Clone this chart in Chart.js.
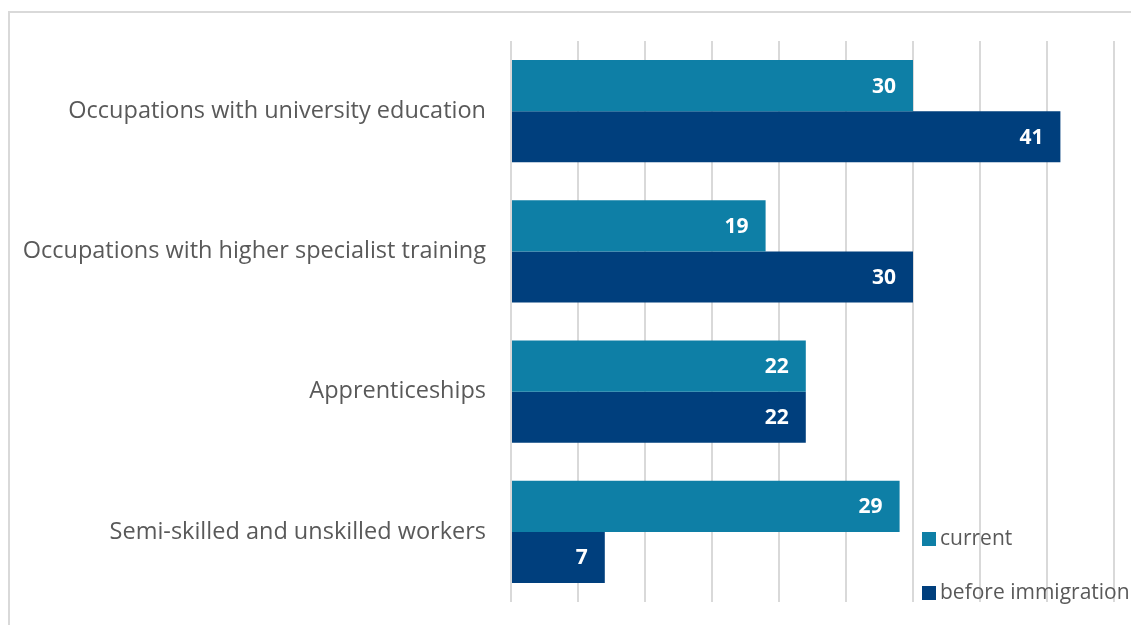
<!DOCTYPE html>
<html>
<head>
<meta charset="utf-8">
<script src="https://cdn.jsdelivr.net/npm/chart.js@4"></script>
<style>
  html, body { margin: 0; padding: 0; background: #fff; }
  canvas { display: block; }
</style>
</head>
<body>
<canvas id="chart" width="1131" height="625"></canvas>
<script>
// Data
const categories = [
    'Occupations with university education',
    'Occupations with higher specialist training',
    'Apprenticeships',
    'Semi-skilled and unskilled workers'
];
const currentValues = [30, 19, 22, 29];
const beforeValues = [41, 30, 22, 7];
const seriesNames = ['current', 'before immigration'];

const fontFamily = '"Open Sans", Lato, sans-serif';

// Frame around the whole chart
const framePlugin = {
    id: 'frame',
    beforeDraw(chart) {
        const ctx = chart.ctx;
        ctx.save();
        ctx.strokeStyle = '#d9d9d9';
        ctx.lineWidth = 2;
        ctx.strokeRect(9, 12, 1140, 640);
        ctx.restore();
    }
};

// White bold numbers at the end of each bar
const valueLabels = {
    id: 'valueLabels',
    afterDatasetsDraw(chart) {
        const ctx = chart.ctx;
        ctx.save();
        ctx.fillStyle = '#ffffff';
        ctx.font = 'bold 21px ' + fontFamily;
        ctx.textAlign = 'right';
        ctx.textBaseline = 'middle';
        chart.data.datasets.forEach((ds, i) => {
            chart.getDatasetMeta(i).data.forEach((bar, j) => {
                ctx.fillText(ds.data[j], bar.x - 17, bar.y + 1);
            });
        });
        ctx.restore();
    }
};

// Legend stacked in the bottom right corner
const cornerLegend = {
    id: 'cornerLegend',
    afterDraw(chart) {
        const ctx = chart.ctx;
        ctx.save();
        ctx.font = '21px ' + fontFamily;
        ctx.textBaseline = 'middle';
        chart.data.datasets.forEach((ds, i) => {
            const y = 539 + i * 54;
            ctx.fillStyle = ds.backgroundColor;
            ctx.fillRect(922, y - 7, 14, 14);
            ctx.fillStyle = '#595959';
            ctx.fillText(ds.label, 940, y);
        });
        ctx.restore();
    }
};

const ctx = document.getElementById('chart').getContext('2d');
new Chart(ctx, {
    type: 'bar',
    data: {
        labels: categories,
        datasets: [
            {
                label: seriesNames[0],
                data: currentValues,
                backgroundColor: '#0e7fa6',
                categoryPercentage: 0.73,
                barPercentage: 1.0
            },
            {
                label: seriesNames[1],
                data: beforeValues,
                backgroundColor: '#003f7d',
                categoryPercentage: 0.73,
                barPercentage: 1.0
            }
        ]
    },
    options: {
        indexAxis: 'y',
        responsive: false,
        animation: false,
        layout: {
            padding: { left: 0, right: 17, top: 41, bottom: 23 }
        },
        plugins: {
            legend: { display: false },
            tooltip: { enabled: false }
        },
        scales: {
            x: {
                min: 0,
                max: 45,
                ticks: { display: false, stepSize: 5 },
                grid: { color: '#d9d9d9', lineWidth: 2, drawTicks: false },
                border: { display: false },
                afterFit(scale) { scale.height = 0; }
            },
            y: {
                afterFit(scale) {
                    scale.width = 511;
                    scale.paddingTop = 0;
                    scale.paddingBottom = 0;
                },
                ticks: {
                    color: '#595959',
                    font: { family: fontFamily, size: 23.5 },
                    padding: 17
                },
                grid: { display: false },
                border: { display: false }
            }
        }
    },
    plugins: [framePlugin, valueLabels, cornerLegend]
});
</script>
</body>
</html>
